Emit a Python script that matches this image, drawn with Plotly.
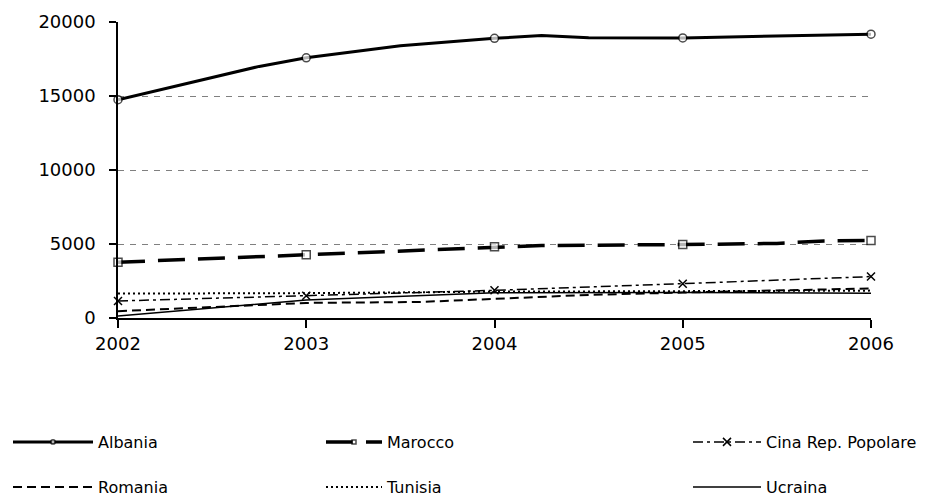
import plotly.graph_objects as go

# ---- data ----
years = [2002, 2003, 2004, 2005, 2006]

albania_x = [2002, 2002.75, 2003, 2003.5, 2004, 2004.25, 2004.5, 2005, 2006]
albania_y = [14750, 17000, 17580, 18400, 18900, 19080, 18930, 18920, 19180]

marocco_x = [2002, 2002.5, 2003, 2003.5, 2004, 2004.25, 2005, 2005.5, 2005.75, 2006]
marocco_y = [3770, 4020, 4270, 4560, 4820, 4900, 4960, 5040, 5200, 5240]

cina_x = [2002, 2003, 2004, 2005, 2006]
cina_y = [1150, 1500, 1870, 2320, 2800]

romania_x = [2002, 2003, 2003.6, 2004, 2004.5, 2005, 2006]
romania_y = [460, 1020, 1080, 1280, 1560, 1720, 2000]

tunisia_x = [2002, 2003, 2004, 2005, 2006]
tunisia_y = [1650, 1680, 1780, 1800, 1850]

ucraina_x = [2002, 2003, 2004, 2005, 2006]
ucraina_y = [130, 1220, 1700, 1720, 1680]

y_ticks = [0, 5000, 10000, 15000, 20000]

FONT = "DejaVu Sans"
MS = 8
# the page body has an 8px default margin, so the figure is drawn 8px in
FIG_W, FIG_H = 924, 492


def year_sizes(xs):
    return [MS if float(x).is_integer() else 0 for x in xs]


fig = go.Figure()

fig.add_trace(go.Scatter(
    x=albania_x, y=albania_y, name="Albania", mode="lines+markers",
    line=dict(color="black", width=3),
    marker=dict(symbol="circle", size=year_sizes(albania_x), color="white",
                line=dict(color="black", width=1.5)),
    cliponaxis=False, legend="legend"))

fig.add_trace(go.Scatter(
    x=marocco_x, y=marocco_y, name="Marocco", mode="lines+markers",
    line=dict(color="black", width=3.5, dash="27px,13px"),
    marker=dict(symbol="square", size=year_sizes(marocco_x), color="white",
                line=dict(color="black", width=1.5)),
    cliponaxis=False, legend="legend2"))

fig.add_trace(go.Scatter(
    x=cina_x, y=cina_y, name="Cina Rep. Popolare", mode="lines+markers",
    line=dict(color="black", width=1.5, dash="10px,4px,3px,4px"),
    marker=dict(symbol="x-thin", size=MS, color="black",
                line=dict(color="black", width=1.5)),
    cliponaxis=False, legend="legend3"))

fig.add_trace(go.Scatter(
    x=romania_x, y=romania_y, name="Romania", mode="lines",
    line=dict(color="black", width=2, dash="9px,5px"),
    cliponaxis=False, legend="legend4"))

fig.add_trace(go.Scatter(
    x=tunisia_x, y=tunisia_y, name="Tunisia", mode="lines",
    line=dict(color="black", width=2, dash="2px,3px"),
    cliponaxis=False, legend="legend5"))

fig.add_trace(go.Scatter(
    x=ucraina_x, y=ucraina_y, name="Ucraina", mode="lines",
    line=dict(color="black", width=1.5),
    cliponaxis=False, legend="legend6"))


def leg(x_px, top_px, itemwidth):
    return dict(
        xref="container", yref="container",
        x=x_px / FIG_W, y=1 - top_px / FIG_H,
        xanchor="left", yanchor="top",
        orientation="v", itemwidth=itemwidth,
        font=dict(family=FONT, size=16, color="black"),
        bgcolor="rgba(0,0,0,0)", borderwidth=0,
    )


ROW1, ROW2 = 417, 462
fig.update_layout(
    width=FIG_W, height=FIG_H,
    margin=dict(l=110, r=61, t=13.5, b=181.5, autoexpand=False),
    paper_bgcolor="white", plot_bgcolor="white",
    font=dict(family=FONT, size=17, color="black"),
    showlegend=True,
    legend=leg(0, ROW1, 80),
    legend2=leg(313, ROW1, 56),
    legend3=leg(680, ROW1, 68),
    legend4=leg(0, ROW2, 80),
    legend5=leg(313, ROW2, 56),
    legend6=leg(680, ROW2, 68),
    xaxis=dict(
        range=[2002, 2006], tickvals=years, ticktext=[str(y) for y in years],
        showgrid=False, zeroline=False, automargin=False,
        showline=True, linecolor="black", linewidth=1.5,
        ticks="outside", ticklen=8, tickwidth=1.5, tickcolor="black",
        ticklabelstandoff=1,
        tickfont=dict(family=FONT, size=18, color="black"),
    ),
    yaxis=dict(
        range=[0, 20000], tickvals=y_ticks, ticktext=[str(v) for v in y_ticks],
        showgrid=True, gridcolor="#808080", gridwidth=1, griddash="6px,6px",
        zeroline=False, automargin=False,
        showline=True, linecolor="black", linewidth=1.5,
        ticks="outside", ticklen=7, tickwidth=1.5, tickcolor="black",
        ticklabelstandoff=10,
        tickfont=dict(family=FONT, size=18, color="black"),
    ),
)

fig.write_html("out.html")
